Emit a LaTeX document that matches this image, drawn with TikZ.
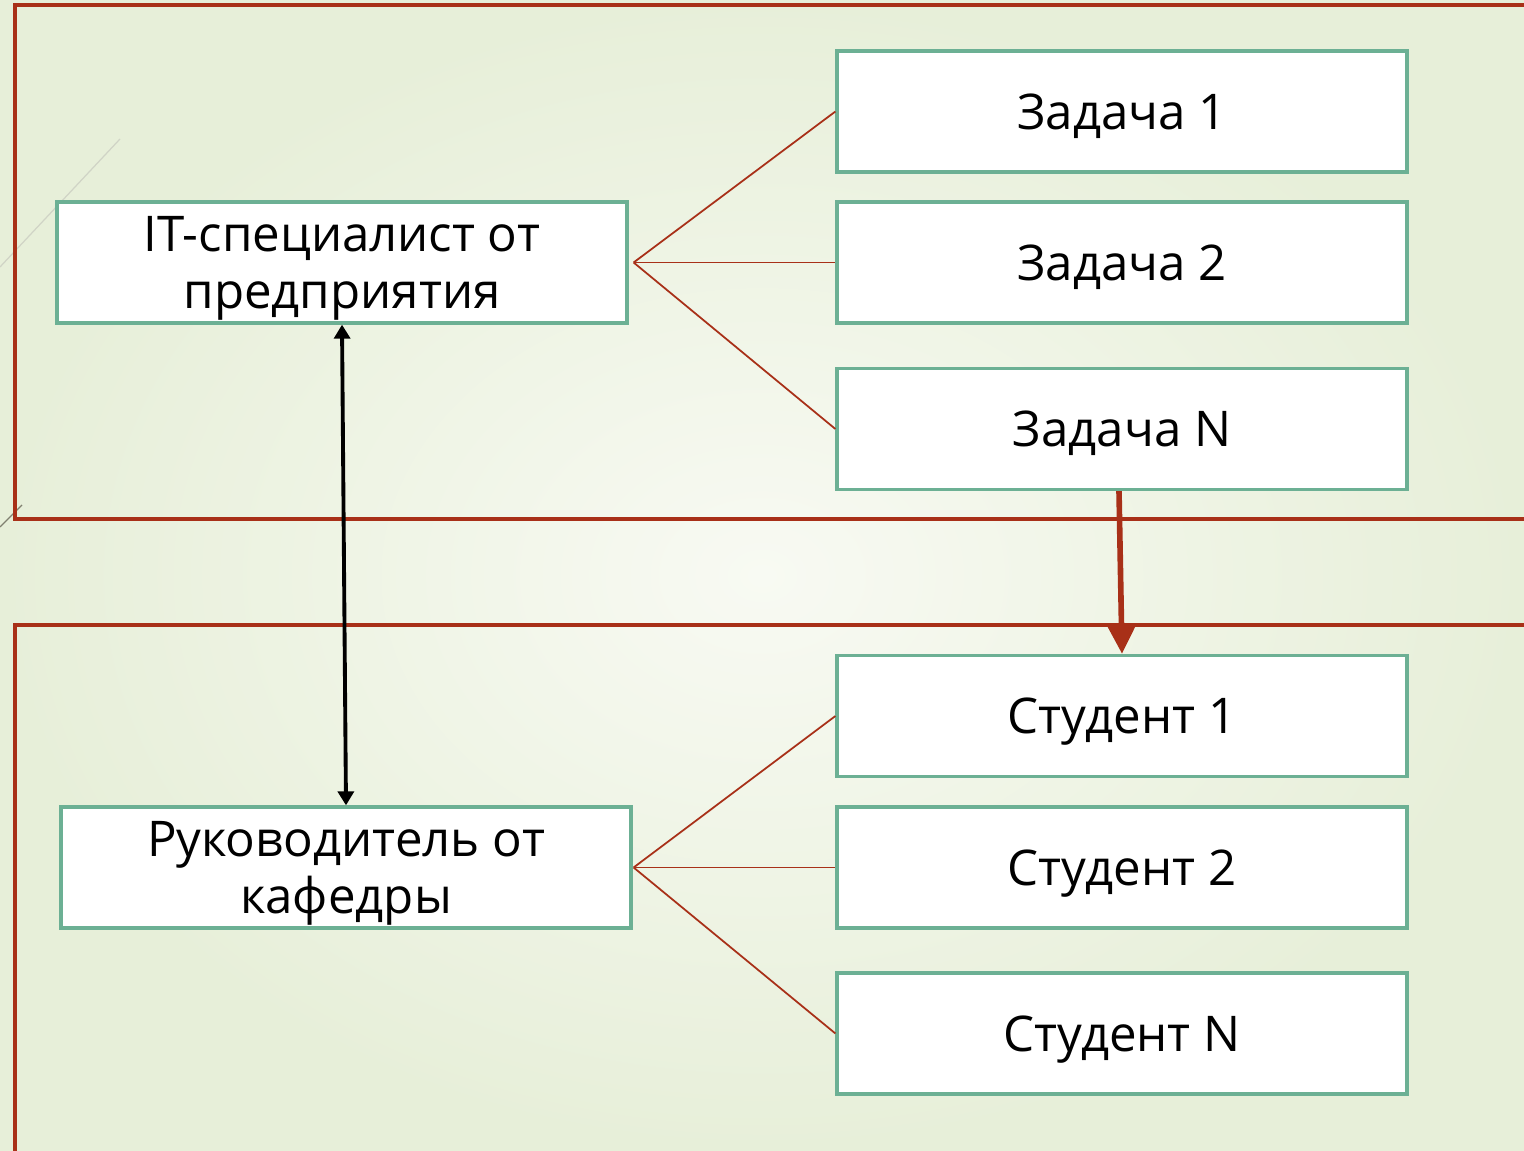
\documentclass[tikz,border=0pt]{standalone}
\usepackage{fontspec}
\setmainfont{Open Sans}
\usetikzlibrary{arrows.meta}
\definecolor{frameRed}{RGB}{168,48,24}
\definecolor{boxGreen}{RGB}{108,176,148}
\definecolor{bgEdge}{RGB}{231,239,217}
\definecolor{bgMid}{RGB}{248,250,243}
\begin{document}
\begin{tikzpicture}[x=0.02cm,y=-0.02cm,
  box/.style={draw=boxGreen,line width=1.9pt,fill=white,minimum width=11.4cm,
    minimum height=2.42cm,inner sep=0pt,align=center,text depth=0pt,
    font=\fontsize{28}{32}\selectfont},
  link/.style={draw=frameRed,line width=1pt},
  frame/.style={draw=frameRed,line width=2.2pt}]
% background
\shade[inner color=bgMid,outer color=bgEdge] (0,0) rectangle (1524,1151);
\useasboundingbox (0,0) rectangle (1524,1151);
\draw[color={rgb,255:red,208;green,212;blue,198},line width=0.7pt] (0,267) -- (120,139);
\draw[color={rgb,255:red,128;green,128;blue,112},line width=0.7pt] (0,527) -- (22,505);
% section frames
\draw[frame] (1524,5) -- (15,5) -- (15,519) -- (1524,519);
\draw[frame] (1524,625) -- (15,625) -- (15,1151);
% boxes
\node[box] (it) at (342,262.5) {IT-специалист от\\предприятия};
\node[box] (z1) at (1122,111.5) {Задача 1};
\node[box] (z2) at (1122,262.5) {Задача 2};
\node[box] (zn) at (1122,429) {Задача N};
\node[box] (ru) at (346,867.5) {Руководитель от\\кафедры};
\node[box] (s1) at (1122,716) {Студент 1};
\node[box] (s2) at (1122,867.5) {Студент 2};
\node[box] (sn) at (1122,1033.5) {Студент N};
% links
\coordinate (itj) at ([xshift=0.1cm]it.east);
\coordinate (ruj) at ([xshift=0.02cm]ru.east);
\foreach \t in {z1,z2,zn} \draw[link] (itj) -- (\t.west);
\foreach \t in {s1,s2,sn} \draw[link] (ruj) -- (\t.west);
% arrows
\draw[line width=2.2pt,{Triangle[length=0.28cm,width=0.32cm]}-{Triangle[length=0.28cm,width=0.32cm]}] (it.south) -- (ru.north);
\draw[frameRed,line width=3.2pt,-{Triangle[length=0.58cm,width=0.56cm]}] ([xshift=-0.06cm]zn.south) -- (s1.north);
\end{tikzpicture}
\end{document}
